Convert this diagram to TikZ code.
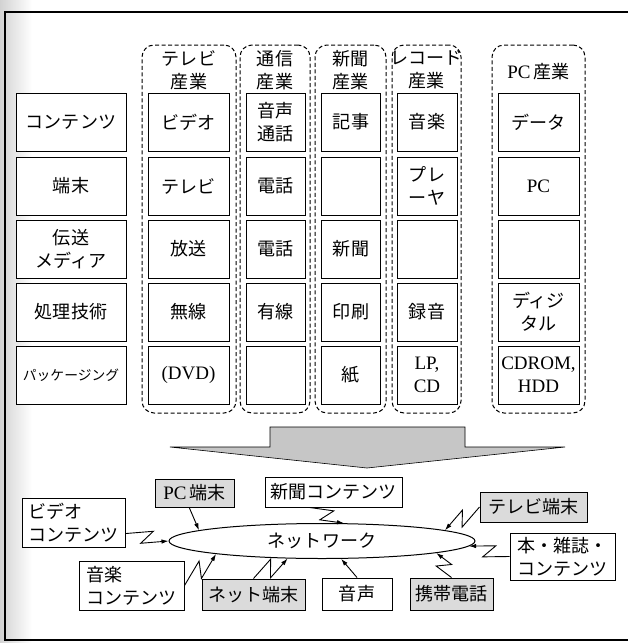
\documentclass[tikz,border=0pt]{standalone}
\usepackage{fontspec}
\setmainfont{Liberation Serif}
\newfontfamily\jp[Scale=0.95]{Noto Sans CJK JP}
\usetikzlibrary{calc,arrows.meta,shapes.geometric}
\begin{document}
\begin{tikzpicture}[x=1pt,y=-1pt,
  font=\fontsize{19}{23}\selectfont\jp,
  cell/.style={draw, fill=white, line width=1pt, minimum height=58pt, inner sep=0pt, align=center},
  widecell/.style={cell, minimum width=81pt},
  narrowcell/.style={cell, minimum width=59pt},
  labelcell/.style={cell, minimum width=110pt},
  grp/.style={draw, dash pattern=on 4pt off 2.5pt, rounded corners=12pt, line width=1pt, inner sep=0pt},
  hdr/.style={align=center, inner sep=0pt},
  nb/.style={draw, fill=white, line width=1pt, inner sep=2pt, align=left},
  gb/.style={nb, fill=gray!28},
  arr/.style={line width=0.9pt, -{Latex[length=7pt,width=4.5pt]}},
  bolt/.style={to path={-- ($(\tikztostart)!0.62!(\tikztotarget)!#1!90:(\tikztotarget)$) -- ($(\tikztostart)!0.38!(\tikztotarget)!#1!-90:(\tikztotarget)$) -- (\tikztotarget) \tikztonodes}},
  bolt/.default=7pt]
\useasboundingbox (0,0) rectangle (628,643);
\fill[white] (0,0) rectangle (628,643);
\shade[left color=gray!35, right color=white] (0,0) rectangle (32,643);
% frame
\draw[line width=1.2pt] (628,12) -- (5,12) -- (5,640) -- (628,640);

% groups
\node[grp, minimum width=94pt, minimum height=368pt] (gTV) at (189,229) {};
\node[grp, minimum width=70pt, minimum height=368pt] (gTel) at (275,229) {};
\node[grp, minimum width=71pt, minimum height=368pt] (gNews) at (350.5,229) {};
\node[grp, minimum width=69pt, minimum height=368pt] (gRec) at (426.5,229) {};
\node[grp, minimum width=93pt, minimum height=368pt] (gPC) at (538.5,229) {};

% headers
\node[hdr] (hTV) at (189,70) {テレビ\\産業};
\node[hdr] (hTel) at (275,70) {通信\\産業};
\node[hdr] (hNews) at (350.5,70) {新聞\\産業};
\node[hdr] (hRec) at (426.5,70) {レコード\\産業};
\node[hdr] (hPC) at (538.5,72) {{\rmfamily PC}\,産業};

% row labels
\node[labelcell] (r1) at (71,122) {コンテンツ};
\node[labelcell] (r2) at (71,186) {端末};
\node[labelcell] (r3) at (71,249) {伝送\\メディア};
\node[labelcell] (r4) at (71,312) {処理技術};
\node[labelcell, font=\fontsize{14.5}{17}\selectfont\jp] (r5) at (71,375) {パッケージング};

% TV column
\node[widecell] (tv1) at (188.5,122) {ビデオ};
\node[widecell] (tv2) at (188.5,186) {テレビ};
\node[widecell] (tv3) at (188.5,249) {放送};
\node[widecell] (tv4) at (188.5,312) {無線};
\node[widecell] (tv5) at (188.5,375) {\rmfamily (DVD)};
% Tel column
\node[narrowcell] (te1) at (275.5,122) {音声\\通話};
\node[narrowcell] (te2) at (275.5,186) {電話};
\node[narrowcell] (te3) at (275.5,249) {電話};
\node[narrowcell] (te4) at (275.5,312) {有線};
\node[narrowcell] (te5) at (275.5,375) {};
% News column
\node[narrowcell] (ne1) at (351,122) {記事};
\node[narrowcell] (ne2) at (351,186) {};
\node[narrowcell] (ne3) at (351,249) {新聞};
\node[narrowcell] (ne4) at (351,312) {印刷};
\node[narrowcell] (ne5) at (351,375) {紙};
% Record column
\node[narrowcell, minimum width=60pt] (re1) at (427,122) {音楽};
\node[narrowcell, minimum width=60pt] (re2) at (427,186) {プレ\\ーヤ};
\node[narrowcell, minimum width=60pt] (re3) at (427,249) {};
\node[narrowcell, minimum width=60pt] (re4) at (427,312) {録音};
\node[narrowcell, minimum width=60pt] (re5) at (427,375) {\rmfamily LP,\\\rmfamily CD};
% PC column
\node[widecell] (pc1) at (538.5,122) {データ};
\node[widecell] (pc2) at (538.5,186) {\rmfamily PC};
\node[widecell] (pc3) at (538.5,249) {};
\node[widecell] (pc4) at (538.5,312) {ディジ\\タル};
\node[widecell] (pc5) at (538.5,375) {\rmfamily CDROM,\\\rmfamily HDD};

% big arrow
\draw[fill=gray!45, line width=0.6pt] (270,427) -- (465,427) -- (465,447) -- (565,447) -- (367,468) -- (170,447) -- (270,447) -- cycle;

% network
\node[draw, ellipse, line width=1pt, minimum width=306pt, minimum height=35pt, inner sep=0pt] (net) at (322,541) {ネットワーク};

\node[nb, minimum width=103pt, minimum height=49pt] (vid) at (73.5,522.5) {ビデオ\\コンテンツ};
\node[gb, minimum width=79pt, minimum height=28pt] (pcb) at (194.5,493) {{\rmfamily PC}\,端末};
\node[nb, minimum width=137pt, minimum height=30pt] (npc) at (333.5,492) {新聞コンテンツ};
\node[gb, minimum width=107pt, minimum height=30pt] (tvt) at (533.5,507) {テレビ端末};
\node[nb, minimum width=105pt, minimum height=47pt] (bk) at (562.5,556.5) {本・雑誌・\\コンテンツ};
\node[gb, minimum width=83pt, minimum height=32pt] (mob) at (451.5,594) {携帯電話};
\node[nb, minimum width=70pt, minimum height=32pt] (voice) at (357,594) {音声};
\node[gb, minimum width=103pt, minimum height=31pt] (nt) at (253.5,594.5) {ネット端末};
\node[nb, minimum width=105pt, minimum height=49pt] (mus) at (131.5,585.5) {音楽\\コンテンツ};

% connectors
\draw[arr] (pcb.-110) -- (net.175);
\draw[arr] (npc.-147) to[bolt] (net.39);
\draw[arr] (tvt.west) to[bolt] (net.5);
\draw[arr] (bk.west) to[bolt] (net.-2);
\draw[arr] (mob.north) to[bolt] (net.-6);
\draw[arr] (voice.north) -- (net.-43);
\draw[arr] (nt.north) to[bolt=8pt] (net.207);
\draw[arr] (mus.east) to[bolt] (net.187);
\draw[arr] (vid.-12) to[bolt] (net.west);
\end{tikzpicture}
\end{document}
